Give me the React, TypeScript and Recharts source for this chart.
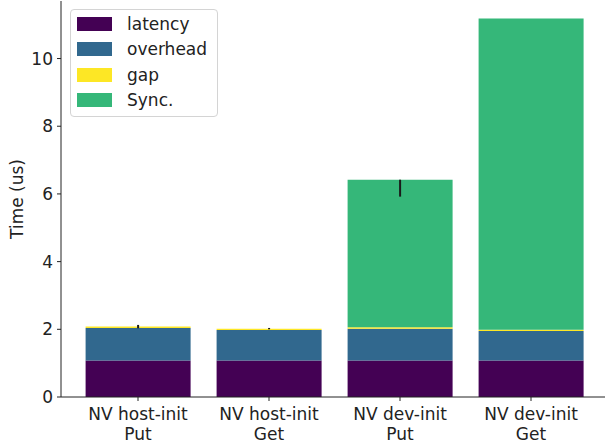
import { BarChart, Bar, XAxis, YAxis, ErrorBar, Legend } from 'recharts';

// categories, two lines each
const CATEGORIES = [
  'NV host-init\nPut',
  'NV host-init\nGet',
  'NV dev-init\nPut',
  'NV dev-init\nGet',
];

// stacked components (us)
const LATENCY = [1.08, 1.08, 1.08, 1.08];
const OVERHEAD = [0.96, 0.9, 0.94, 0.87];
const GAP = [0.04, 0.04, 0.04, 0.04];
const SYNC = [0, 0, 4.36, 9.19];

// error bars [below, above]
const GAP_ERR = [[0.05, 0.05], [0.02, 0.02], [0, 0], [0, 0]];
const SYNC_ERR = [[0, 0], [0, 0], [0.5, 0], [0, 0]];

const Y_TICKS = [0, 2, 4, 6, 8, 10];

const SERIES = [
  { key: 'latency', name: 'latency', color: '#440154' },
  { key: 'overhead', name: 'overhead', color: '#31688e' },
  { key: 'gap', name: 'gap', color: '#fde725' },
  { key: 'sync', name: 'Sync.', color: '#35b779' },
];

const data = CATEGORIES.map((name, i) => ({
  name,
  latency: LATENCY[i],
  overhead: OVERHEAD[i],
  gap: GAP[i],
  sync: SYNC[i],
  gapErr: GAP_ERR[i],
  syncErr: SYNC_ERR[i],
}));

const FONT = '"DejaVu Sans", sans-serif';
const INK = '#222222';
const FS = 17;

function CategoryTick(props: any) {
  const { x, y, payload } = props;
  const lines = String(payload.value).split('\n');
  return (
    <text
      x={x}
      y={y}
      textAnchor="middle"
      fill={INK}
      fontSize={FS}
      fontFamily={FONT}
    >
      {lines.map((line, i) => (
        <tspan key={i} x={x} dy={i === 0 ? 17.4 : 20}>
          {line}
        </tspan>
      ))}
    </text>
  );
}

function LegendBox() {
  return (
    <div
      style={{
        width: 146,
        height: 106,
        border: '1px solid #d4d4d4',
        borderRadius: 4,
        background: 'rgba(255,255,255,0.85)',
        fontFamily: FONT,
        fontSize: FS,
        color: INK,
        position: 'relative',
      }}
    >
      {SERIES.map((s, i) => (
        <div
          key={s.key}
          style={{
            position: 'absolute',
            left: 6,
            top: 6 + i * 25.4,
            height: 16,
            display: 'flex',
            alignItems: 'center',
          }}
        >
          <div
            style={{ width: 35, height: 14, background: s.color }}
          />
          <span style={{ marginLeft: 15, lineHeight: '16px' }}>
            {s.name}
          </span>
        </div>
      ))}
    </div>
  );
}

export default function App() {
  return (
    <div
      style={{
        position: 'absolute',
        left: 0,
        top: 0,
        width: 605,
        height: 445,
        overflow: 'hidden',
        background: '#ffffff',
      }}
    >
      <BarChart
        width={612}
        height={445}
        data={data}
        margin={{ top: 1, right: 4, left: 0, bottom: 0 }}
        barCategoryGap="10%"
      >
        <XAxis
          dataKey="name"
          height={48}
          padding={{ left: 11.5, right: 11.5 }}
          tick={<CategoryTick />}
          tickSize={4}
          tickMargin={2}
          axisLine={{ stroke: INK, strokeWidth: 1 }}
          tickLine={{ stroke: INK }}
          interval={0}
        />
        <XAxis
          xAxisId="top"
          orientation="top"
          height={0}
          tick={false}
          tickLine={false}
          axisLine={{ stroke: INK, strokeWidth: 1 }}
        />
        <YAxis
          width={61}
          domain={[0, 11.7]}
          ticks={Y_TICKS}
          tickSize={4}
          tickMargin={4}
          allowDataOverflow
          tick={{ fill: INK, fontSize: FS, fontFamily: FONT }}
          axisLine={{ stroke: INK, strokeWidth: 1 }}
          tickLine={{ stroke: INK }}
          label={{
            content: () => (
              <text
                x={16.5}
                y={199}
                transform="rotate(-90, 16.5, 199)"
                textAnchor="middle"
                dominantBaseline="central"
                fill={INK}
                fontSize={FS}
                fontFamily={FONT}
              >
                Time (us)
              </text>
            ),
          }}
        />
        <Legend
          layout="horizontal"
          verticalAlign="middle"
          align="center"
          content={() => <LegendBox />}
          wrapperStyle={{ position: 'absolute', left: 70, top: 9, width: 'auto', height: 'auto' }}
        />
        <Bar
          dataKey="latency"
          name="latency"
          stackId="s"
          fill="#440154"
          isAnimationActive={false}
        />
        <Bar
          dataKey="overhead"
          name="overhead"
          stackId="s"
          fill="#31688e"
          isAnimationActive={false}
        />
        <Bar
          dataKey="gap"
          name="gap"
          stackId="s"
          fill="#fde725"
          isAnimationActive={false}
        >
          <ErrorBar
            dataKey="gapErr"
            width={0}
            stroke="#1a1a1a"
            strokeWidth={2}
            direction="y"
          />
        </Bar>
        <Bar
          dataKey="sync"
          name="Sync."
          stackId="s"
          fill="#35b779"
          isAnimationActive={false}
        >
          <ErrorBar
            dataKey="syncErr"
            width={0}
            stroke="#1a1a1a"
            strokeWidth={2}
            direction="y"
          />
        </Bar>
      </BarChart>
    </div>
  );
}
